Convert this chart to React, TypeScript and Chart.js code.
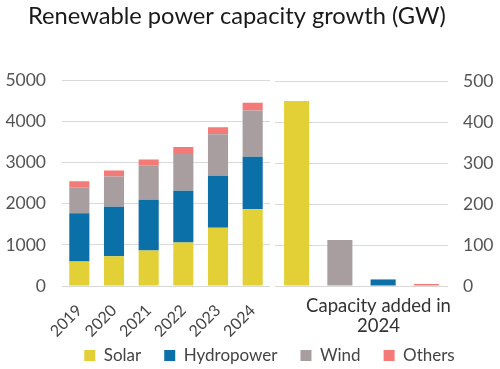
import React, { useEffect, useRef } from 'react';
import { Chart, registerables } from 'chart.js';

Chart.register(...registerables);

// ---- Data ----
const years = ['2019', '2020', '2021', '2022', '2023', '2024'];
const solar = [595, 725, 865, 1060, 1415, 1865];
const hydropower = [1175, 1205, 1230, 1255, 1265, 1280];
const wind = [635, 735, 830, 895, 1010, 1125];
const others = [140, 145, 155, 170, 170, 185];

const addedCategories = ['Solar', 'Wind', 'Hydropower', 'Others'];
const added2024 = [451, 112, 16, 5];

const leftMax = 5000;
const leftStep = 1000;
const rightMax = 500;
const rightStep = 100;

const titleText = 'Renewable power capacity growth (GW)';
const rightAxisTitle = ['Capacity added in', '2024'];

// ---- Styles ----
const FONT = 'Lato';
const C_SOLAR = '#E3CF36';
const C_HYDRO = '#0B70A8';
const C_WIND = '#A89D9F';
const C_OTHERS = '#F47A78';
const GRID = '#D9D9D9';
const TICK = '#555555';

const plainNumber = (v: any) => String(v);

// let tick labels overflow their axis boxes (no clipping)
const unclipPlugin = {
  id: 'unclip',
  afterLayout(chart: any) {
    const y = chart.scales.y;
    if (y && y.position === 'left') y.left = 0;
    const x = chart.scales.x;
    if (x) x.bottom = chart.height;
  },
};

// two-line caption under the right panel
const captionPlugin = {
  id: 'caption',
  afterDraw(chart: any) {
    const { ctx, chartArea } = chart;
    const cx = (chartArea.left + chartArea.right) / 2 + 17;
    ctx.save();
    ctx.fillStyle = '#333333';
    ctx.font = `18.5px ${FONT}`;
    ctx.textAlign = 'center';
    ctx.textBaseline = 'middle';
    rightAxisTitle.forEach((line, i) => {
      ctx.fillText(line, cx, chartArea.bottom + 20 + i * 20.5);
    });
    ctx.restore();
  },
};

export default function App() {
  const leftRef = useRef<HTMLCanvasElement | null>(null);
  const rightRef = useRef<HTMLCanvasElement | null>(null);

  useEffect(() => {
    const barOpts = { barPercentage: 0.58, categoryPercentage: 1.0 };
    const left = new Chart(leftRef.current as HTMLCanvasElement, {
      type: 'bar',
      plugins: [unclipPlugin],
      data: {
        labels: years,
        datasets: [
          { label: 'Solar', data: solar, backgroundColor: C_SOLAR, ...barOpts },
          { label: 'Hydropower', data: hydropower, backgroundColor: C_HYDRO, ...barOpts },
          { label: 'Wind', data: wind, backgroundColor: C_WIND, ...barOpts },
          { label: 'Others', data: others, backgroundColor: C_OTHERS, ...barOpts },
        ],
      },
      options: {
        responsive: false,
        animation: false,
        layout: { padding: { left: 28, right: -11, top: 2, bottom: -5 } },
        plugins: {
          title: {
            display: true,
            text: titleText,
            align: 'start',
            color: '#1A1A1A',
            font: { family: FONT, size: 23.7, weight: 'normal' },
            padding: { top: 0, bottom: 50 },
          },
          legend: {
            position: 'bottom',
            labels: {
              boxWidth: 11,
              boxHeight: 11,
              padding: 23,
              color: '#444444',
              font: { family: FONT, size: 17 },
            },
          },
          tooltip: { enabled: false },
        },
        scales: {
          x: {
            stacked: true,
            grid: { display: false, drawTicks: false },
            border: { display: false },
            ticks: {
              minRotation: 45,
              maxRotation: 45,
              color: '#444444',
              padding: 15,
              font: { family: FONT, size: 16 },
            },
            afterFit: (s: any) => {
              s.height = 38;
            },
          },
          y: {
            stacked: true,
            min: 0,
            max: leftMax,
            border: { display: false },
            grid: { color: GRID, drawTicks: false },
            ticks: {
              stepSize: leftStep,
              color: TICK,
              padding: 16,
              font: { family: FONT, size: 17.5 },
              callback: plainNumber,
            },
            afterFit: (s: any) => {
              s.width = 34;
            },
          },
          y2: {
            type: 'linear',
            position: 'right',
            min: 0,
            max: rightMax,
            grid: { display: false, drawTicks: false },
            border: { display: false },
            ticks: { display: false },
            afterFit: (s: any) => {
              s.width = 241;
            },
          },
        },
      } as any,
    });

    const right = new Chart(rightRef.current as HTMLCanvasElement, {
      type: 'bar',
      plugins: [captionPlugin],
      data: {
        labels: addedCategories,
        datasets: [
          {
            label: 'Capacity added in 2024',
            data: added2024,
            backgroundColor: [C_SOLAR, C_WIND, C_HYDRO, C_OTHERS],
            ...barOpts,
          },
        ],
      },
      options: {
        responsive: false,
        animation: false,
        layout: { padding: { left: 5, right: 0, top: 81, bottom: 33 } },
        plugins: { legend: { display: false }, title: { display: false }, tooltip: { enabled: false } },
        scales: {
          x: {
            grid: { display: false, drawTicks: false },
            border: { display: false },
            ticks: { display: false },
            afterFit: (s: any) => {
              s.height = 50;
            },
          },
          y: {
            position: 'right',
            min: 0,
            max: rightMax,
            border: { display: false },
            grid: { color: GRID, drawTicks: false },
            ticks: {
              stepSize: rightStep,
              color: TICK,
              padding: 15,
              font: { family: FONT, size: 17.5 },
              callback: plainNumber,
            },
            afterFit: (s: any) => {
              s.width = 52;
            },
          },
        },
      } as any,
    });

    return () => {
      left.destroy();
      right.destroy();
    };
  }, []);

  return (
    <div style={{ position: 'absolute', left: 0, top: 0, width: 500, height: 369, background: '#FFFFFF' }}>
      <canvas ref={leftRef} width={500} height={369} style={{ position: 'absolute', left: 0, top: 0, width: 500, height: 369 }} />
      <canvas ref={rightRef} width={230} height={369} style={{ position: 'absolute', left: 270, top: 0, width: 230, height: 369 }} />
    </div>
  );
}
